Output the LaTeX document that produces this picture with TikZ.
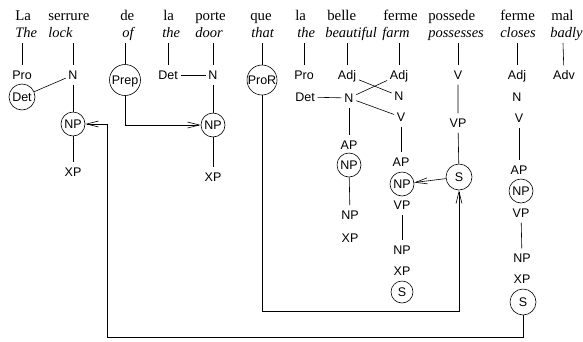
\documentclass[tikz,border=0pt]{standalone}
\usepackage{fontspec}
\setmainfont{Liberation Serif}
\setsansfont{Liberation Sans}
\usetikzlibrary{arrows.meta}
\begin{document}
\begin{tikzpicture}[x=1pt,y=-1pt,line width=0.6pt,
 word/.style={font=\fontsize{14.8}{18}\selectfont, anchor=base west, inner sep=0pt},
 gloss/.style={font=\fontsize{14.5}{18}\selectfont\itshape, anchor=base west, inner sep=0pt},
 tag/.style={font=\sffamily\fontsize{12.5}{14}\selectfont, text height=9pt, text depth=0pt, inner xsep=2.5pt, inner ysep=4.8pt},
 circ/.style={font=\sffamily\fontsize{12.5}{14}\selectfont, text height=9pt, text depth=0pt, circle, draw, inner sep=0pt, minimum size=24pt},
 arr/.style={-{Straight Barb[length=12pt,width=6pt]}}]
\useasboundingbox (0,0) rectangle (583,341);

% words
\node[word] (w1) at (15,20.7) {La};
\node[word] (w2) at (48,20.7) {serrure};
\node[word] (w3) at (120,20.7) {de};
\node[word] (w4) at (163,20.7) {la};
\node[word] (w5) at (195,20.7) {porte};
\node[word] (w6) at (250,20.7) {que};
\node[word] (w7) at (295,20.7) {la};
\node[word] (w8) at (327,20.7) {belle};
\node[word] (w9) at (383,20.7) {ferme};
\node[word] (w10) at (428,20.7) {possede};
\node[word] (w11) at (500,20.7) {ferme};
\node[word] (w12) at (551,20.7) {mal};
% glosses
\node[gloss] (g1) at (15,37.5) {The};
\node[gloss] (g2) at (48,37.5) {lock};
\node[gloss] (g3) at (122,37.5) {of};
\node[gloss] (g4) at (162,37.5) {the};
\node[gloss] (g5) at (195,37.5) {door};
\node[gloss] (g6) at (251,37.5) {that};
\node[gloss] (g7) at (297,37.5) {the};
\node[gloss] (g8) at (325,37.5) {beautiful};
\node[gloss] (g9) at (382,37.5) {farm};
\node[gloss] (g10) at (428,37.5) {possesses};
\node[gloss] (g11) at (500,37.5) {closes};
\node[gloss] (g12) at (550,37.5) {badly};

% tops of the word lines
\coordinate (c1) at (22,43);
\coordinate (c2) at (73,43);
\coordinate (c3) at (125,43);
\coordinate (c4) at (168,43);
\coordinate (c5) at (213,43);
\coordinate (c6) at (262,43);
\coordinate (c7) at (304,43);
\coordinate (c8) at (347,43);
\coordinate (c9) at (399,43);
\coordinate (c10) at (458,43);
\coordinate (c11) at (517,43);
\coordinate (c12) at (563,43);

% column 1
\node[tag] (pro1) at (22,75) {Pro};
\node[circ, minimum size=26pt] (det1) at (22,97) {Det};
% column 2
\node[tag] (n2) at (73,75) {N};
\node[circ] (np2) at (73,124) {NP};
\node[tag] (xp2) at (73,172) {XP};
% column 3
\node[circ, minimum size=31pt] (prep) at (125,80) {Prep};
% column 4
\node[tag] (det4) at (168,75) {Det};
% column 5
\node[tag] (n5) at (213,75) {N};
\node[circ] (np5) at (213,125) {NP};
\node[tag] (xp5) at (213,177) {XP};
% column 6
\node[circ, minimum size=30pt] (pror) at (262,80) {ProR};
% column 7
\node[tag] (pro7) at (304,75) {Pro};
\node[tag] (det7) at (305,97) {Det};
% column 8
\node[tag] (adj8) at (347,75) {Adj};
\node[tag] (n8) at (349,98) {N};
\node[tag] (ap8) at (349,145) {AP};
\node[circ] (np8) at (349,165) {NP};
\node[tag] (np8b) at (350,215) {NP};
\node[tag] (xp8) at (350,238) {XP};
% column 9
\node[tag] (adj9) at (399,75) {Adj};
\node[tag] (n9) at (399,96) {N};
\node[tag] (v9) at (401,117) {V};
\node[tag] (ap9) at (401,162) {AP};
\node[circ] (np9) at (402,184) {NP};
\node[tag] (vp9) at (402,205) {VP};
\node[tag] (np9b) at (402,250) {NP};
\node[tag] (xp9) at (402,271) {XP};
\node[circ, minimum size=22pt] (s9b) at (402,292) {S};
% column 10
\node[tag] (v10) at (458,75) {V};
\node[tag] (vp10) at (458,123) {VP};
\node[circ, minimum size=26pt] (s10) at (459,177) {S};
% column 11
\node[tag] (adj11) at (517,75) {Adj};
\node[tag] (n11) at (517,97) {N};
\node[tag] (v11) at (519,118) {V};
\node[tag] (ap11) at (519,170) {AP};
\node[circ] (np11) at (521,191) {NP};
\node[tag] (vp11) at (521,213) {VP};
\node[tag] (np11b) at (522,258) {NP};
\node[tag] (xp11) at (522,279) {XP};
\node[circ, minimum size=26pt] (s11) at (523,302) {S};
% column 12
\node[tag] (adv12) at (564,75) {Adv};

% word lines
\draw (c1) -- (pro1);
\draw (c2) -- (n2);
\draw (c3) -- (prep);
\draw (c4) -- (det4);
\draw (c5) -- (n5);
\draw (c6) -- (pror);
\draw (c7) -- (pro7);
\draw (c8) -- (adj8);
\draw (c9) -- (adj9);
\draw (c10) -- (v10);
\draw (c11) -- (adj11);
\draw (c12) -- (adv12);

% tree lines
\draw (det1) -- (n2);
\draw (n2) -- (np2) -- (xp2);
\draw (det4) -- (n5);
\draw (n5) -- (np5) -- (xp5);
\draw (det7) -- (n8);
\draw (n8) -- (ap8);
\draw (np8) -- (np8b);
\draw (adj8) -- (n9);
\draw (n8) -- (adj9);
\draw (n8) -- (v9);
\draw (v9) -- (ap9);
\draw (vp9) -- (np9b);
\draw (v10) -- (vp10) -- (s10);
\draw (v11) -- (ap11);
\draw (vp11) -- (np11b);

% arrows
\draw[arr] (prep) |- (np5);
\draw[arr] (s10) -- (np9);
\coordinate (b1) at (459,311);
\draw[arr] (pror) |- (b1) -- (s10);
\coordinate (b2) at (107,337);
\draw[arr] (s11) |- (b2) |- (np2);
\end{tikzpicture}
\end{document}
